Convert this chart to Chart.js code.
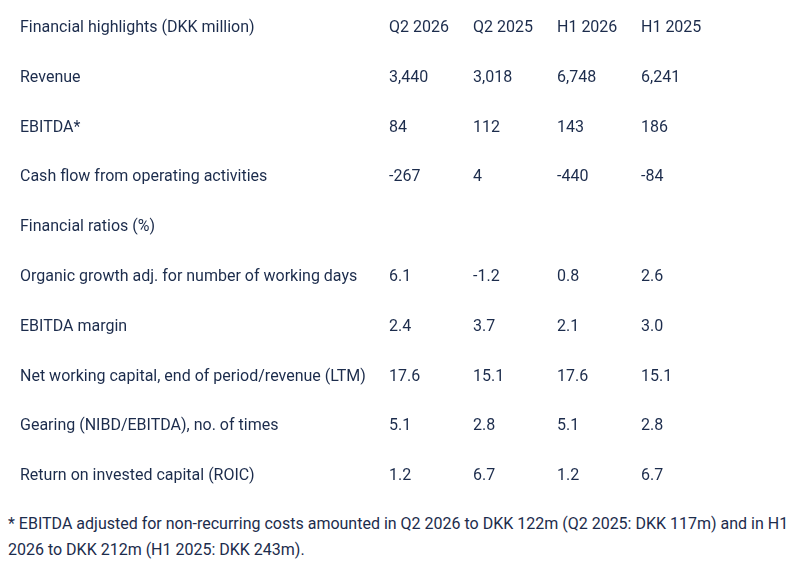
<!DOCTYPE html>
<html>
<head>
<meta charset="utf-8">
<script src="https://cdn.jsdelivr.net/npm/chart.js@4"></script>
<style>
  body { margin: 0; background: #fff; font-family: Roboto, sans-serif; color: #1c2c4c; }
  #wrap { position: relative; width: 794px; height: 501px; }
  #note { margin: 10px 0 0 8px; font-size: 16px; line-height: 26px; width: 786px; white-space: nowrap; }
</style>
</head>
<body>
<div id="wrap"><canvas id="tbl"></canvas></div>
<div id="note">* EBITDA adjusted for non-recurring costs amounted in Q2 2026 to DKK 122m (Q2 2025: DKK 117m) and in H1<br>2026 to DKK 212m (H1 2025: DKK 243m).</div>
<script>
// lignes et colonnes du tableau
const rows = ["Financial highlights (DKK million)", "Revenue", "EBITDA*", "Cash flow from operating activities",
  "Financial ratios (%)", "Organic growth adj. for number of working days", "EBITDA margin",
  "Net working capital, end of period/revenue (LTM)", "Gearing (NIBD/EBITDA), no. of times",
  "Return on invested capital (ROIC)"];
const periods = ["Q2 2026", "Q2 2025", "H1 2026", "H1 2025"];
const q2_2026 = ["", "3,440", "84", "-267", "", "6.1", "2.4", "17.6", "5.1", "1.2"];
const q2_2025 = ["", "3,018", "112", "4", "", "-1.2", "3.7", "15.1", "2.8", "6.7"];
const h1_2026 = ["", "6,748", "143", "-440", "", "0.8", "2.1", "17.6", "5.1", "1.2"];
const h1_2025 = ["", "6,241", "186", "-84", "", "2.6", "3.0", "15.1", "2.8", "6.7"];
const columns = [q2_2026, q2_2025, h1_2026, h1_2025];

// plugin qui écrit le texte du tableau via les échelles
const tablePlugin = {
  id: 'tableText',
  afterDraw(chart) {
    const ctx = chart.ctx;
    const xs = chart.scales.x, ys = chart.scales.y;
    ctx.save();
    ctx.font = '16px Roboto, sans-serif';
    ctx.fillStyle = '#1c2c4c';
    ctx.textBaseline = 'middle';
    ctx.textAlign = 'left';
    rows.forEach((r, i) => {
      const y = ys.getPixelForValue(i);
      ctx.fillText(r, 20, y);
      columns.forEach((col, j) => {
        const txt = i === 0 ? periods[j] : col[i];
        ctx.fillText(txt, xs.getPixelForValue(j), y);
      });
    });
    ctx.restore();
  }
};

new Chart(document.getElementById('tbl'), {
  type: 'scatter',
  data: { datasets: [] },
  options: {
    responsive: true,
    maintainAspectRatio: false,
    animation: false,
    layout: { padding: { left: 389, right: 153, top: 3, bottom: 0 } },
    plugins: { legend: { display: false }, tooltip: { enabled: false } },
    scales: {
      x: { type: 'category', labels: periods, offset: false, display: false },
      y: { type: 'category', labels: rows, offset: true, display: false }
    }
  },
  plugins: [tablePlugin]
});
</script>
</body>
</html>
